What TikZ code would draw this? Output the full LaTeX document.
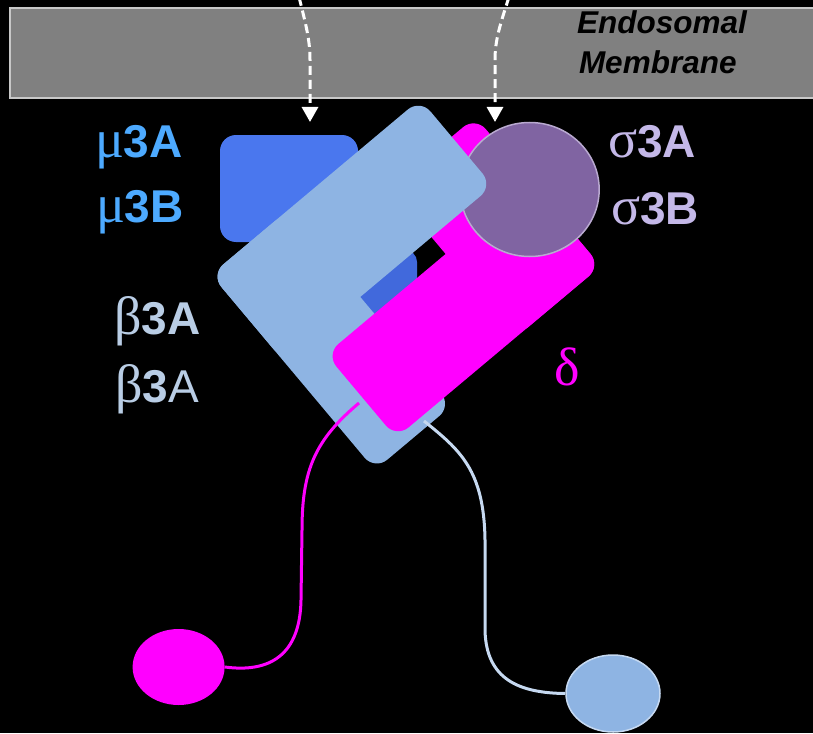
\documentclass[tikz,border=0pt]{standalone}
\usepackage{fontspec}
\setmainfont{Liberation Sans}
\newfontfamily\greekfont{Liberation Serif}
\newcommand{\grk}[1]{{\fontsize{54}{60}\selectfont\greekfont #1}}
\usetikzlibrary{shapes.geometric,arrows.meta}
\definecolor{membfill}{HTML}{808080}
\definecolor{membline}{HTML}{C8C8C8}
\definecolor{lightblue}{HTML}{8EB4E3}
\definecolor{mublue}{HTML}{4A77EE}
\definecolor{darkblue}{HTML}{4169DC}
\definecolor{magentac}{HTML}{FF00FF}
\definecolor{sigfill}{HTML}{8064A2}
\definecolor{sigline}{HTML}{B9A9D0}
\definecolor{tailblue}{HTML}{C6D9F1}
\definecolor{mulbl}{HTML}{4DAAFF}
\definecolor{betalbl}{HTML}{B9CDE5}
\definecolor{siglbl}{HTML}{C4B8E8}
\begin{document}
\begin{tikzpicture}[x=1pt,y=-1pt,
  block/.style={draw=none, inner sep=0pt, outer sep=0pt, rotate=40, rounded corners=16pt},
  flatbox/.style={draw=none, inner sep=0pt, outer sep=0pt},
  lbl/.style={inner sep=0pt, outer sep=0pt, anchor=base west, font=\fontsize{46}{54}\selectfont},
  membtxt/.style={inner sep=0pt, outer sep=0pt, anchor=base west, font=\fontsize{31.5}{36}\selectfont\bfseries\itshape, text=black},
  dasharrow/.style={white, line width=3pt, dash pattern=on 9pt off 5pt, -{Triangle[width=16pt,length=15pt]}},
  tail/.style={line width=3pt}]
\useasboundingbox (0,0) rectangle (813,733);
\fill[black] (0,0) rectangle (813,733);
% membrane
\path[fill=membfill, draw=membline, line width=2pt] (9.5,8.5) rectangle (830,98);
\node[membtxt] (endo) at (577,34) {Endosomal};
\node[membtxt] (memb) at (579,74) {Membrane};
% dashed arrows
\coordinate (aL0) at (299,-3);
\coordinate (aL1) at (310,122);
\coordinate (aR0) at (509,-3);
\coordinate (aR1) at (495,122);
\draw[dasharrow] (aL0) .. controls (306,25) and (310,40) .. (310,60) -- (aL1);
\draw[dasharrow] (aR0) .. controls (500,25) and (495,40) .. (495,60) -- (aR1);
% mu3 square and darker blue piece
\node[flatbox, fill=mublue, rounded corners=16pt, minimum width=138pt, minimum height=107pt] (mu) at (289,188.5) {};
\node[flatbox, fill=darkblue, rounded corners=12pt, minimum width=97pt, minimum height=130pt] (mudark) at (368.5,315) {};
% beta3A trunk, part B
\node[block, fill=lightblue, minimum width=100pt, minimum height=255pt] (betaB) at (331.3,340.2) {};
% delta trunk
\node[block, fill=magentac, minimum width=111pt, minimum height=195pt] (deltaB) at (495.6,227.2) {};
\node[block, fill=magentac, minimum width=267pt, minimum height=109pt] (deltaA) at (463.4,310.2) {};
% sigma
\node[ellipse, fill=sigfill, draw=sigline, line width=1.5pt, inner sep=0pt, minimum width=139pt, minimum height=134pt] (sigma) at (529.7,189.5) {};
% beta3A trunk, part A
\node[block, fill=lightblue, minimum width=273pt, minimum height=113pt] (betaA) at (351.9,230.2) {};
% ears
\node[ellipse, fill=magentac, inner sep=0pt, minimum width=92pt, minimum height=76pt] (delear) at (178.6,667) {};
\node[ellipse, fill=lightblue, draw=tailblue, line width=1.5pt, inner sep=0pt, minimum width=94pt, minimum height=77pt] (betear) at (613,693.5) {};
% hinges
\coordinate (deltail) at (359,403);
\coordinate (bettail) at (424,421);
\draw[tail, magentac] (deltail) .. controls (315,440) and (302,470) .. (302,530) -- (301,600) .. controls (300,655) and (270,673) .. (delear.east);
\draw[tail, tailblue] (bettail) .. controls (460,450) and (484,470) .. (485,540) -- (485,630) .. controls (486,680) and (520,693) .. (betear.west);
% labels
\node[lbl, text=mulbl] (lmuA) at (95,157) {\grk{μ}\textbf{3A}};
\node[lbl, text=mulbl] (lmuB) at (96,222) {\grk{μ}\textbf{3B}};
\node[lbl, text=betalbl] (lbeA) at (114,334) {\grk{β}\textbf{3A}};
\node[lbl, text=betalbl] (lbeB) at (115,402) {\grk{β}\textbf{3}A};
\node[lbl, text=siglbl] (lsiA) at (608,157) {\grk{σ}\textbf{3A}};
\node[lbl, text=siglbl] (lsiB) at (611,224) {\grk{σ}\textbf{3B}};
\node[lbl, text=magentac, font=\fontsize{54}{60}\selectfont\greekfont] (ldel) at (554,385) {δ};
\end{tikzpicture}
\end{document}
